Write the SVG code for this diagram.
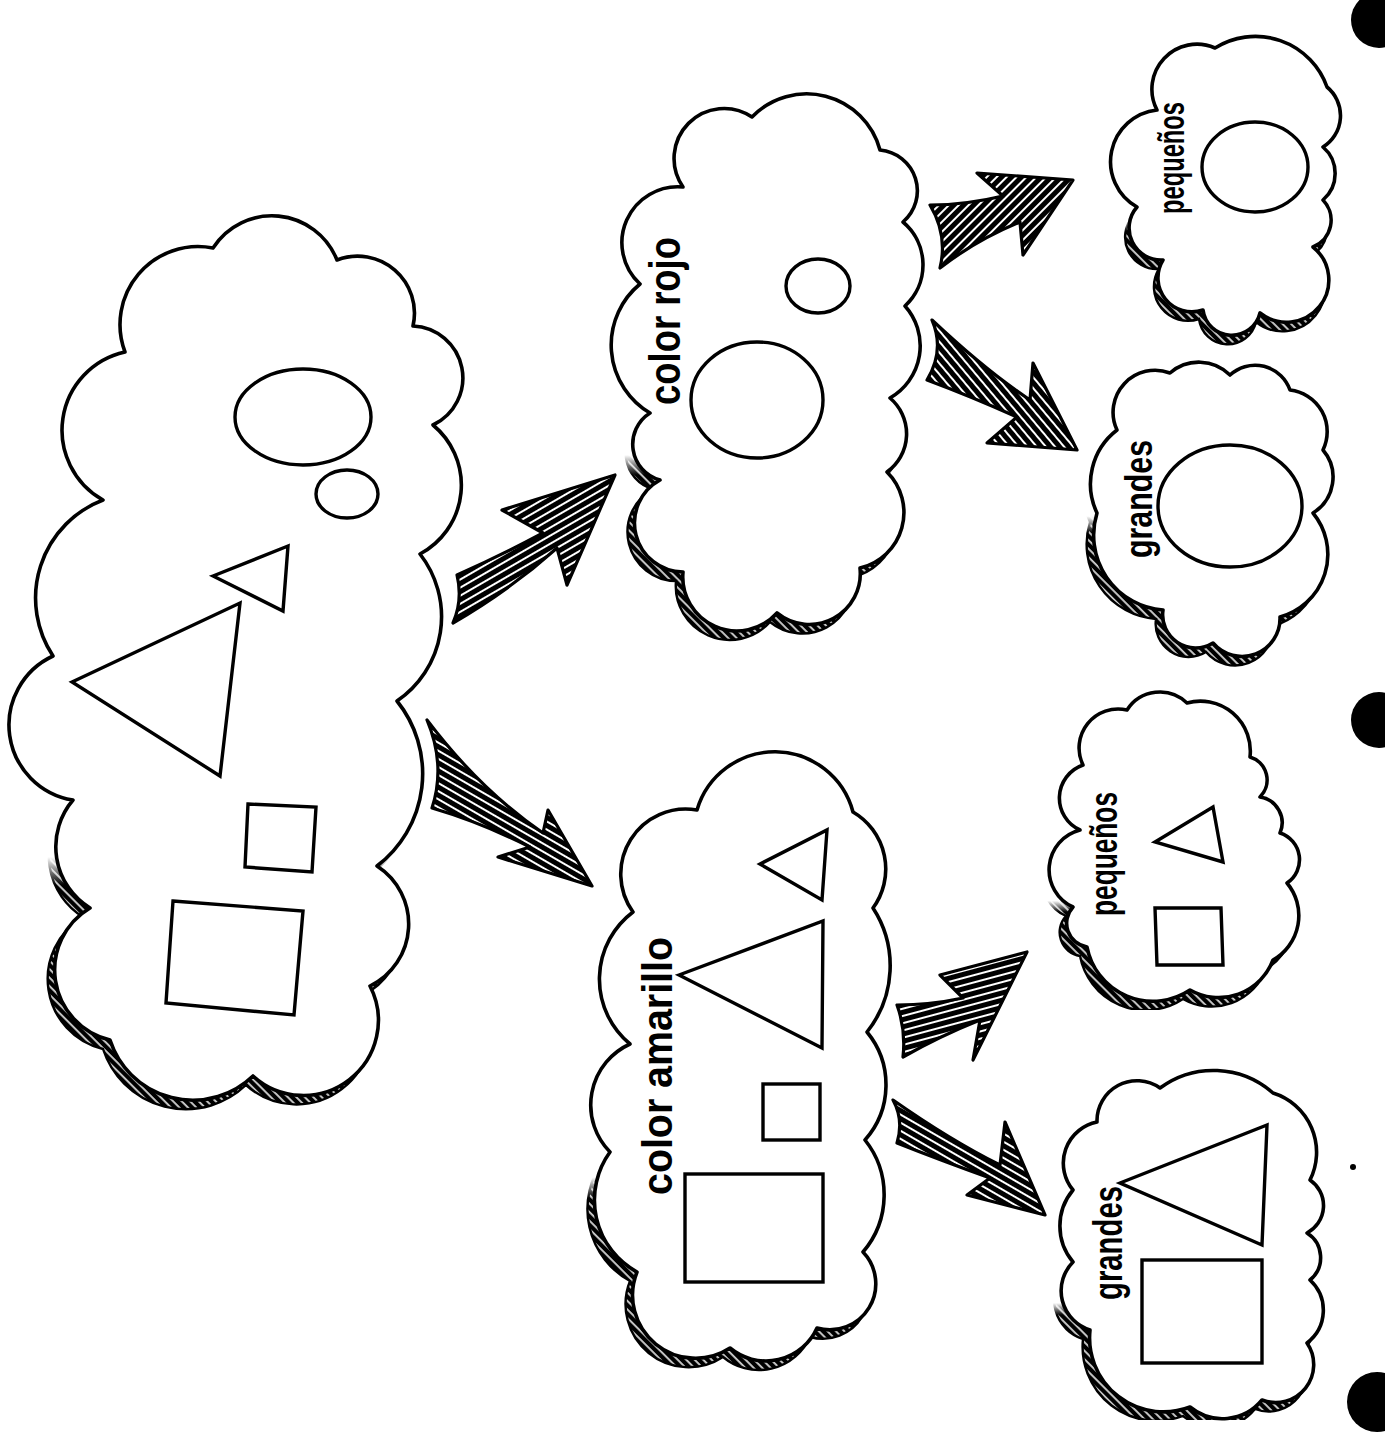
<svg xmlns="http://www.w3.org/2000/svg" width="1385" height="1435" viewBox="0 0 1385 1435">
  <style>
    .cloud { fill: #fff; stroke: #000; stroke-width: 3.6; stroke-linejoin: round; }
    .shade { fill: url(#shade-hatch); stroke: #000; stroke-width: 2.4; }
    .shape { fill: none; stroke: #000; stroke-width: 3.4; stroke-linejoin: miter; }
    .label { font-family: "Liberation Sans", Arial, sans-serif; font-weight: bold; fill: #000; }
    .arrow { stroke: #000; stroke-width: 3.2; stroke-linejoin: round; }
    .hole { fill: #000; }
  </style>
  <defs>
    <!-- hatch used for the cast shadow under each cloud -->
    <pattern id="shade-hatch" width="6" height="6" patternUnits="userSpaceOnUse" patternTransform="rotate(45)">
      <rect width="6" height="6" fill="#000"/>
      <rect x="0" y="2.2" width="6" height="1.5" fill="#fff"/>
    </pattern>
    <!-- streaked fills for the hand-drawn arrows -->
    <pattern id="streak-a" width="12" height="7" patternUnits="userSpaceOnUse" patternTransform="rotate(-30)">
      <rect width="12" height="7" fill="#000"/>
      <rect x="0" y="3" width="12" height="2" fill="#fff"/>
    </pattern>
    <pattern id="streak-b" width="12" height="7" patternUnits="userSpaceOnUse" patternTransform="rotate(30)">
      <rect width="12" height="7" fill="#000"/>
      <rect x="0" y="3" width="12" height="2" fill="#fff"/>
    </pattern>
    <pattern id="streak-c" width="12" height="7" patternUnits="userSpaceOnUse" patternTransform="rotate(-45)">
      <rect width="12" height="7" fill="#000"/>
      <rect x="0" y="3" width="12" height="2" fill="#fff"/>
    </pattern>
    <pattern id="streak-d" width="12" height="7" patternUnits="userSpaceOnUse" patternTransform="rotate(50)">
      <rect width="12" height="7" fill="#000"/>
      <rect x="0" y="3" width="12" height="2" fill="#fff"/>
    </pattern>
    <pattern id="streak-e" width="12" height="7" patternUnits="userSpaceOnUse" patternTransform="rotate(-15)">
      <rect width="12" height="7" fill="#000"/>
      <rect x="0" y="3" width="12" height="2" fill="#fff"/>
    </pattern>

    <!-- fade so each shadow tapers in instead of starting abruptly -->
    <linearGradient id="fade" x1="0" y1="0" x2="0" y2="1">
      <stop offset="0" stop-color="#000"/>
      <stop offset="0.22" stop-color="#000"/>
      <stop offset="0.3" stop-color="#fff"/>
      <stop offset="1" stop-color="#fff"/>
    </linearGradient>

    <!-- cloud outlines -->
    <path id="p-main" d="M125 352 A78 78 0 0 1 213 248 A70 70 0 0 1 337 260 A57 57 0 0 1 413 326 A52 52 0 0 1 433 425 A78 78 0 0 1 420 554 A102 102 0 0 1 397 701 A116 116 0 0 1 377 866 A69 69 0 0 1 370 986 A75 75 0 0 1 253 1076 A87 87 0 0 1 110 1040 A72 72 0 0 1 90 908 A72 72 0 0 1 73 800 A76 76 0 0 1 53 656 A105 105 0 0 1 103 500 A80 80 0 0 1 125 352 Z"/>
    <path id="p-rojo" d="M683 187 A50 50 0 0 1 752 117 A76 76 0 0 1 880 150 A41 41 0 0 1 903 222 A56 56 0 0 1 905 306 A60 60 0 0 1 890 398 A47 47 0 0 1 887 472 A57 57 0 0 1 860 568 A51 51 0 0 1 777 613 A54 54 0 0 1 683 572 A49 49 0 0 1 660 480 A37 37 0 0 1 650 413 A79 79 0 0 1 640 284 A56 56 0 0 1 683 187 Z"/>
    <path id="p-amarillo" d="M697 810 A81 81 0 0 1 853 812 A66 66 0 0 1 873 908 A106 106 0 0 1 867 1032 A83 83 0 0 1 865 1140 A88 88 0 0 1 863 1252 A46 46 0 0 1 817 1328 A56 56 0 0 1 730 1348 A63 63 0 0 1 637 1272 A82 82 0 0 1 610 1152 A67 67 0 0 1 630 1044 A84 84 0 0 1 633 912 A65 65 0 0 1 697 810 Z"/>
    <path id="p-peq-circ" d="M1157 110 A45 45 0 0 1 1215 48 A76 76 0 0 1 1327 87 A37 37 0 0 1 1323 147 A35 35 0 0 1 1323 200 A29 29 0 0 1 1313 247 A42 42 0 0 1 1260 313 A29 29 0 0 1 1203 310 A34 34 0 0 1 1163 260 A32 32 0 0 1 1137 207 A52 52 0 0 1 1157 110 Z"/>
    <path id="p-gra-circ" d="M1117 430 A42 42 0 0 1 1170 373 A44 44 0 0 1 1230 375 A37 37 0 0 1 1290 390 A42 42 0 0 1 1323 450 A42 42 0 0 1 1313 513 A65 65 0 0 1 1280 617 A38 38 0 0 1 1213 643 A33 33 0 0 1 1163 610 A75 75 0 0 1 1097 513 A68 68 0 0 1 1117 430 Z"/>
    <path id="p-peq-shape" d="M1127 710 A39 39 0 0 1 1187 703 A50 50 0 0 1 1250 757 A24 24 0 0 1 1260 797 A26 26 0 0 1 1280 833 A28 28 0 0 1 1287 883 A51 51 0 0 1 1273 960 A58 58 0 0 1 1190 990 A67 67 0 0 1 1087 947 A24 24 0 0 1 1073 907 A41 41 0 0 1 1080 830 A35 35 0 0 1 1083 765 A39 39 0 0 1 1127 710 Z"/>
    <path id="p-gra-shape" d="M1097 1122 A40 40 0 0 1 1160 1088 A90 90 0 0 1 1273 1093 A62 62 0 0 1 1310 1180 A31 31 0 0 1 1307 1233 A29 29 0 0 1 1310 1280 A41 41 0 0 1 1307 1343 A38 38 0 0 1 1262 1400 A51 51 0 0 1 1190 1407 A74 74 0 0 1 1090 1330 A41 41 0 0 1 1073 1262 A56 56 0 0 1 1073 1190 A42 42 0 0 1 1097 1122 Z"/>

    <!-- shadows only show on the lower side of each cloud -->
    <mask id="m-main"><rect x="0" y="780" width="480" height="350" fill="url(#fade)"/></mask>
    <mask id="m-rojo"><rect x="600" y="400" width="320" height="250" fill="url(#fade)"/></mask>
    <mask id="m-amarillo"><rect x="580" y="1120" width="320" height="260" fill="url(#fade)"/></mask>
    <mask id="m-peq-circ"><rect x="1100" y="180" width="260" height="170" fill="url(#fade)"/></mask>
    <mask id="m-gra-circ"><rect x="1080" y="470" width="260" height="210" fill="url(#fade)"/></mask>
    <mask id="m-peq-shape"><rect x="1040" y="870" width="270" height="140" fill="url(#fade)"/></mask>
    <mask id="m-gra-shape"><rect x="1050" y="1270" width="280" height="150" fill="url(#fade)"/></mask>
  </defs>

  <rect width="1385" height="1435" fill="#fff"/>

  <!-- binder punch holes along the right margin -->
  <g id="holes">
    <circle class="hole" cx="1379" cy="20" r="28"/>
    <circle class="hole" cx="1379" cy="720" r="28"/>
    <circle class="hole" cx="1377" cy="1402" r="30"/>
    <circle class="hole" cx="1353" cy="1167" r="3"/>
  </g>

  <!-- arrows between the groups -->
  <g id="connectors">
    <path class="arrow" fill="url(#streak-a)" d="M457 575 Q500 556 543 533 L502 510 L615 475 L567 585 L557 548 Q510 590 453 623 Q463 600 457 575 Z"/>
    <path class="arrow" fill="url(#streak-b)" d="M427 720 Q480 790 543 833 L548 810 L592 886 L498 857 L530 847 Q480 822 432 808 Q446 765 427 720 Z"/>
    <path class="arrow" fill="url(#streak-c)" d="M930 205 Q966 205 1003 196 L977 173 L1073 180 L1023 255 L1020 222 Q976 240 940 268 Q948 235 930 205 Z"/>
    <path class="arrow" fill="url(#streak-d)" d="M932 320 Q985 370 1030 400 L1033 363 L1077 450 L987 443 L1017 417 Q970 396 927 380 Q945 350 932 320 Z"/>
    <path class="arrow" fill="url(#streak-e)" d="M897 1005 Q930 1005 963 998 L940 975 L1027 952 L973 1060 L980 1020 Q940 1036 903 1057 Q906 1030 897 1005 Z"/>
    <path class="arrow" fill="url(#streak-b)" d="M893 1100 Q950 1140 1000 1165 L1005 1122 L1045 1215 L967 1195 L990 1178 Q940 1160 897 1143 Q904 1120 893 1100 Z"/>
  </g>

  <!-- all shapes together -->
  <g id="cloud-all">
    <g mask="url(#m-main)"><use href="#p-main" class="shade" transform="translate(-7,9)"/></g>
    <use href="#p-main" class="cloud"/>
    <ellipse class="shape" cx="303" cy="417" rx="68" ry="48"/>
    <ellipse class="shape" cx="347" cy="494" rx="31" ry="24"/>
    <polygon class="shape" points="213,576 288,546 283,611"/>
    <polygon class="shape" points="72,682 240,603 220,776"/>
    <polygon class="shape" points="248,804 316,807 312,872 245,867"/>
    <polygon class="shape" points="173,901 303,911 294,1015 166,1003"/>
  </g>

  <!-- red: circles -->
  <g id="cloud-rojo">
    <g mask="url(#m-rojo)"><use href="#p-rojo" class="shade" transform="translate(-7,9)"/></g>
    <use href="#p-rojo" class="cloud"/>
    <text class="label" x="680" y="405" font-size="44" transform="rotate(-90 680 405)" textLength="168" lengthAdjust="spacingAndGlyphs">color  rojo</text>
    <ellipse class="shape" cx="757" cy="400" rx="66" ry="58"/>
    <ellipse class="shape" cx="818" cy="286" rx="32" ry="27"/>
  </g>

  <!-- yellow: squares and triangles -->
  <g id="cloud-amarillo">
    <g mask="url(#m-amarillo)"><use href="#p-amarillo" class="shade" transform="translate(-7,9)"/></g>
    <use href="#p-amarillo" class="cloud"/>
    <text class="label" x="672" y="1195" font-size="42" transform="rotate(-90 672 1195)" textLength="258" lengthAdjust="spacingAndGlyphs">color  amarillo</text>
    <polygon class="shape" points="760,864 827,830 822,900"/>
    <polygon class="shape" points="679,975 823,921 822,1048"/>
    <rect class="shape" x="763" y="1084" width="57" height="56"/>
    <rect class="shape" x="685" y="1174" width="138" height="108"/>
  </g>

  <!-- red, small -->
  <g id="cloud-rojo-pequenos">
    <g mask="url(#m-peq-circ)"><use href="#p-peq-circ" class="shade" transform="translate(-4,9)"/></g>
    <use href="#p-peq-circ" class="cloud"/>
    <text class="label" x="1184" y="214" font-size="36" transform="rotate(-90 1184 214)" textLength="112" lengthAdjust="spacingAndGlyphs">pequeños</text>
    <ellipse class="shape" cx="1255" cy="167" rx="53" ry="45"/>
  </g>

  <!-- red, large -->
  <g id="cloud-rojo-grandes">
    <g mask="url(#m-gra-circ)"><use href="#p-gra-circ" class="shade" transform="translate(-7,9)"/></g>
    <use href="#p-gra-circ" class="cloud"/>
    <text class="label" x="1152" y="558" font-size="38" transform="rotate(-90 1152 558)" textLength="118" lengthAdjust="spacingAndGlyphs">grandes</text>
    <ellipse class="shape" cx="1230" cy="506" rx="72" ry="61"/>
  </g>

  <!-- yellow, small -->
  <g id="cloud-amarillo-pequenos">
    <g mask="url(#m-peq-shape)"><use href="#p-peq-shape" class="shade" transform="translate(-7,9)"/></g>
    <use href="#p-peq-shape" class="cloud"/>
    <text class="label" x="1117" y="916" font-size="38" transform="rotate(-90 1117 916)" textLength="124" lengthAdjust="spacingAndGlyphs">pequeños</text>
    <polygon class="shape" points="1155,842 1213,807 1223,862"/>
    <polygon class="shape" points="1155,908 1221,908 1223,965 1157,965"/>
  </g>

  <!-- yellow, large -->
  <g id="cloud-amarillo-grandes">
    <g mask="url(#m-gra-shape)"><use href="#p-gra-shape" class="shade" transform="translate(-7,9)"/></g>
    <use href="#p-gra-shape" class="cloud"/>
    <text class="label" x="1122" y="1300" font-size="40" transform="rotate(-90 1122 1300)" textLength="114" lengthAdjust="spacingAndGlyphs">grandes</text>
    <polygon class="shape" points="1120,1183 1267,1125 1262,1245"/>
    <rect class="shape" x="1142" y="1260" width="120" height="103"/>
  </g>
</svg>
